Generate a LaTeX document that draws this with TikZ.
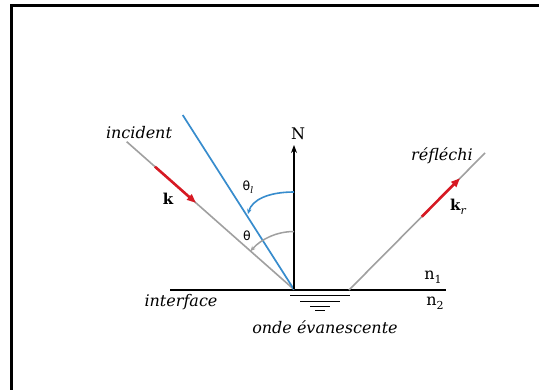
\documentclass[tikz,border=0pt]{standalone}
\usepackage{fontspec}
\newfontfamily\labfont{DejaVu Serif}
\newfontfamily\thfont{DejaVu Sans}
\usetikzlibrary{arrows.meta,calc}
\definecolor{raygray}{RGB}{160,160,160}
\definecolor{rayblue}{RGB}{55,140,205}
\definecolor{kred}{RGB}{215,25,35}
\newcommand{\lowsub}[1]{\raisebox{-0.45ex}{\fontsize{11}{13}\selectfont #1}}
\begin{document}
\begin{tikzpicture}[x=1pt,y=-1pt,
  ray/.style={raygray,line width=1.6pt},
  blueray/.style={rayblue,line width=1.7pt},
  kvec/.style={kred,line width=2.6pt,-{Triangle[length=9pt,width=7pt]}},
  iface/.style={black,line width=1.2pt},
  gnd/.style={black,line width=1pt},
  lab/.style={inner sep=0pt,font=\labfont\itshape\fontsize{16}{18}\selectfont},
  rm/.style={inner sep=0pt,font=\labfont\fontsize{16}{18}\selectfont},
  th/.style={inner sep=0pt,font=\thfont\fontsize{12.5}{14}\selectfont}]
\useasboundingbox (0,0) rectangle (539,390);
\fill[white] (0,0) rectangle (539,390);
\draw[line width=2.2pt] (11.5,390) -- (11.5,5.5) -- (539,5.5);
% points
\coordinate (O) at (294,289.5);
\coordinate (IL) at (170,290);
\coordinate (IR) at (446,290);
\coordinate (Rs) at (349,290);
\coordinate (Inc) at (126.7,141.7);
\coordinate (Ref) at (485,153);
\coordinate (Bl) at (182.7,115);
\coordinate (Ntip) at (294,145);
% interface and ground symbol
\draw[iface] (IL) -- (IR);
\coordinate (g1a) at (290,296); \coordinate (g1b) at (350,296);
\coordinate (g2a) at (300,302); \coordinate (g2b) at (340,302);
\coordinate (g3a) at (310,306.5); \coordinate (g3b) at (330,306.5);
\coordinate (g4a) at (315,311); \coordinate (g4b) at (325,311);
\draw[gnd] (g1a) -- (g1b);
\draw[gnd] (g2a) -- (g2b);
\draw[gnd] (g3a) -- (g3b);
\draw[gnd] (g4a) -- (g4b);
% rays
\draw[ray] (Inc) -- (O);
\draw[ray] (Rs) -- (Ref);
\draw[blueray] (Bl) -- (O);
\draw[line width=1.2pt,-{Stealth[length=8pt,width=6pt]}] (O) -- (Ntip);
% angle arcs
\draw[raygray,line width=1.5pt,-{Stealth[length=5pt,width=4.5pt]}] ($(O)+(0,-58)$) arc[start angle=-90,end angle=-138.5,radius=58];
\coordinate (b0) at (294,192);
\coordinate (b1) at (248,214);
\draw[rayblue,line width=1.6pt,-{Stealth[length=5pt,width=4.5pt]}] (b0) .. controls (268,192) and (252,200) .. (b1);
% wave vectors
\draw[kvec] ($(Inc)!0.169!(O)$) -- ($(Inc)!0.414!(O)$);
\draw[kvec] ($(Rs)!0.535!(Ref)$) -- ($(Rs)!0.816!(Ref)$);
% labels
\node[lab] (tinc) at (139,133) {incident};
\node[lab] (tref) at (442,156) {réfléchi};
\node[lab] (tint) at (181,302) {interface};
\node[lab] (tond) at (325,327) {onde évanescente};
\node[rm] (tN) at (298,134) {N};
\node[rm,font=\labfont\bfseries\fontsize{15}{17}\selectfont] (tk) at (168,199) {k};
\node[rm] (tkr) at (458,207) {{\bfseries\fontsize{15}{17}\selectfont k}\lowsub{\itshape r}};
\node[rm] (tn1) at (433,277) {n\lowsub{1}};
\node[rm] (tn2) at (435,303) {n\lowsub{2}};
\node[th] (tthl) at (248,187) {θ\raisebox{-0.4ex}{\labfont\itshape\fontsize{9}{10}\selectfont l}};
\node[th] (tth) at (247,236) {θ};
\end{tikzpicture}
\end{document}
